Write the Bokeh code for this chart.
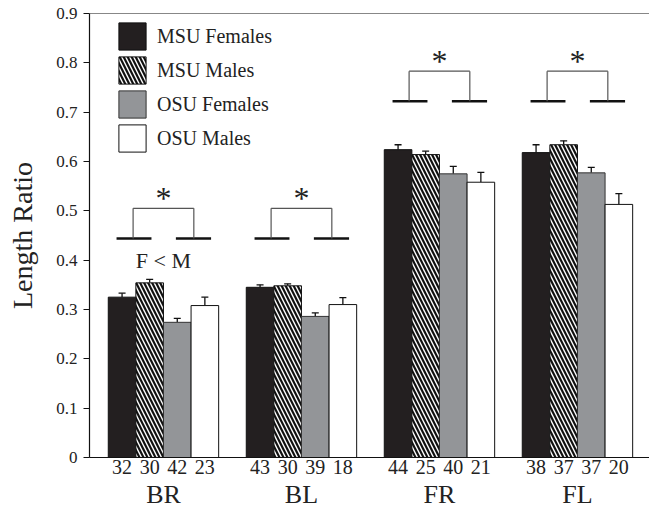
from bokeh.plotting import figure
from bokeh.models import (FixedTicker, Span, Whisker, TeeHead, ColumnDataSource,
                          Legend, LegendItem, LinearAxis)
from bokeh.core.properties import value
from bokeh.embed import file_html
from bokeh.resources import INLINE

# ---- data ----
groups = ["BR", "BL", "FR", "FL"]
series = ["MSU Females", "MSU Males", "OSU Females", "OSU Males"]
msu_f = [0.325, 0.345, 0.624, 0.618]
msu_m = [0.354, 0.348, 0.614, 0.634]
osu_f = [0.274, 0.286, 0.575, 0.577]
osu_m = [0.308, 0.310, 0.558, 0.513]
msu_f_se = [0.008, 0.005, 0.010, 0.016]
msu_m_se = [0.007, 0.004, 0.007, 0.008]
osu_f_se = [0.008, 0.007, 0.015, 0.011]
osu_m_se = [0.017, 0.014, 0.020, 0.022]
n_msu_f = [32, 43, 44, 38]
n_msu_m = [30, 30, 25, 37]
n_osu_f = [42, 39, 40, 37]
n_osu_m = [23, 18, 21, 20]
sig_base = [0.444, 0.444, 0.722, 0.722]
sig_top = [0.505, 0.505, 0.783, 0.783]
sig_mark = ["*", "*", "*", "*"]
note_text = ["F < M"]
note_group = [0]
note_y = [0.40]
yticks = [0, 0.1, 0.2, 0.3, 0.4, 0.5, 0.6, 0.7, 0.8, 0.9]
ytick_labels = ["0", "0.1", "0.2", "0.3", "0.4", "0.5", "0.6", "0.7", "0.8", "0.9"]

FONT = "Liberation Serif"
offsets = [-0.3, -0.1, 0.1, 0.3]
bar_w = 0.2
vals = [msu_f, msu_m, osu_f, osu_m]
ses = [msu_f_se, msu_m_se, osu_f_se, osu_m_se]
ns = [n_msu_f, n_msu_m, n_osu_f, n_osu_m]
styles = [
    dict(fill_color="#231f20", line_color="#111111"),
    dict(fill_color="white", line_color="#111111", hatch_pattern="\\", hatch_color="#111111",
         hatch_scale=8, hatch_weight=2.2),
    dict(fill_color="#939598", line_color="#333333"),
    dict(fill_color="white", line_color="#111111"),
]

p = figure(width=649, height=512, x_range=(-0.536, 3.522), y_range=(0, 0.9),
           output_backend="svg", toolbar_location=None,
           min_border_left=89, min_border_right=0, min_border_top=13, min_border_bottom=55)
p.outline_line_color = None
p.xgrid.visible = False
p.ygrid.visible = False
p.background_fill_color = "white"

items = []
tick_pos = []
tick_over = {}
for j in range(4):
    xs = [round(i + offsets[j], 2) for i in range(4)]
    src = ColumnDataSource(dict(x=xs, top=vals[j],
                                upper=[v + e for v, e in zip(vals[j], ses[j])]))
    r = p.vbar(x="x", top="top", bottom=0, width=bar_w, source=src, line_width=1, **styles[j])
    items.append(LegendItem(label=series[j], renderers=[r]))
    w = Whisker(base="x", lower="top", upper="upper", source=src, dimension="height",
                line_color="#111111", line_width=1.3,
                lower_head=None, upper_head=TeeHead(size=7, line_color="#111111", line_width=1.3))
    p.add_layout(w)
    for i, x in enumerate(xs):
        tick_pos.append(x)
        tick_over[x] = str(ns[j][i])

# significance brackets
gx = list(range(4))
p.segment(x0=[g - 0.34 for g in gx], y0=sig_base, x1=[g - 0.087 for g in gx], y1=sig_base,
          line_color="#111111", line_width=2.6)
p.segment(x0=[g + 0.09 for g in gx], y0=sig_base, x1=[g + 0.345 for g in gx], y1=sig_base,
          line_color="#111111", line_width=2.6)
p.segment(x0=[g - 0.22 for g in gx], y0=sig_base, x1=[g - 0.22 for g in gx], y1=sig_top,
          line_color="#555555", line_width=1.2)
p.segment(x0=[g + 0.22 for g in gx], y0=sig_base, x1=[g + 0.22 for g in gx], y1=sig_top,
          line_color="#555555", line_width=1.2)
p.segment(x0=[g - 0.22 for g in gx], y0=sig_top, x1=[g + 0.22 for g in gx], y1=sig_top,
          line_color="#555555", line_width=1.2)
p.text(x=gx, y=sig_top, text=sig_mark, text_align="center", text_baseline="alphabetic",
       text_font=value(FONT), text_font_size="32px", text_color="#222222", y_offset=-10)
p.text(x=note_group, y=note_y, text=note_text, text_align="center", text_baseline="middle",
       text_font=value(FONT), text_font_size="22px", text_color="#222222")

# top frame line
p.add_layout(Span(location=0.9, dimension="width", line_color="#111111", line_width=1.2))

# y axis
ya = p.yaxis[0]
ya.ticker = FixedTicker(ticks=yticks)
ya.major_label_overrides = {t: l for t, l in zip(yticks, ytick_labels)}
ya.minor_tick_line_color = None
ya.major_tick_in = 0
ya.major_tick_out = 6
ya.major_label_standoff = 6
ya.axis_label = "Length Ratio"
ya.axis_label_standoff = 15
ya.axis_label_text_font = FONT
ya.axis_label_text_font_style = "normal"
ya.axis_label_text_font_size = "28px"
ya.axis_label_text_color = "#222222"
ya.major_label_text_font = FONT
ya.major_label_text_font_size = "17px"
ya.major_label_text_color = "#222222"
ya.axis_line_color = "#111111"
ya.major_tick_line_color = "#111111"
ya.axis_line_width = 1.2

# x axis: sample sizes
xa = p.xaxis[0]
xa.ticker = FixedTicker(ticks=tick_pos)
xa.major_label_overrides = tick_over
xa.minor_tick_line_color = None
xa.major_tick_line_color = None
xa.major_tick_in = 0
xa.major_tick_out = 0
xa.major_label_standoff = 2
xa.major_label_text_font = FONT
xa.major_label_text_font_size = "20px"
xa.major_label_text_color = "#222222"
xa.axis_line_color = "#111111"
xa.axis_line_width = 1.2

# group axis
ga = LinearAxis(ticker=FixedTicker(ticks=gx),
                major_label_overrides={g: n for g, n in zip(gx, groups)})
ga.axis_line_color = None
ga.major_tick_line_color = None
ga.minor_tick_line_color = None
ga.major_tick_in = 0
ga.major_tick_out = 0
ga.major_label_standoff = 3
ga.major_label_text_font = FONT
ga.major_label_text_font_size = "26px"
ga.major_label_text_color = "#222222"
p.add_layout(ga, "below")

legend = Legend(items=items, location=(26, 302), glyph_width=34, glyph_height=34,
                label_height=34, spacing=0, padding=0, margin=0, border_line_color=None,
                background_fill_alpha=0, label_text_font=FONT, label_text_font_size="20px",
                label_text_color="#222222", label_standoff=8, label_text_baseline="middle")
p.add_layout(legend)

open("out.html", "w").write(file_html(p, INLINE))
